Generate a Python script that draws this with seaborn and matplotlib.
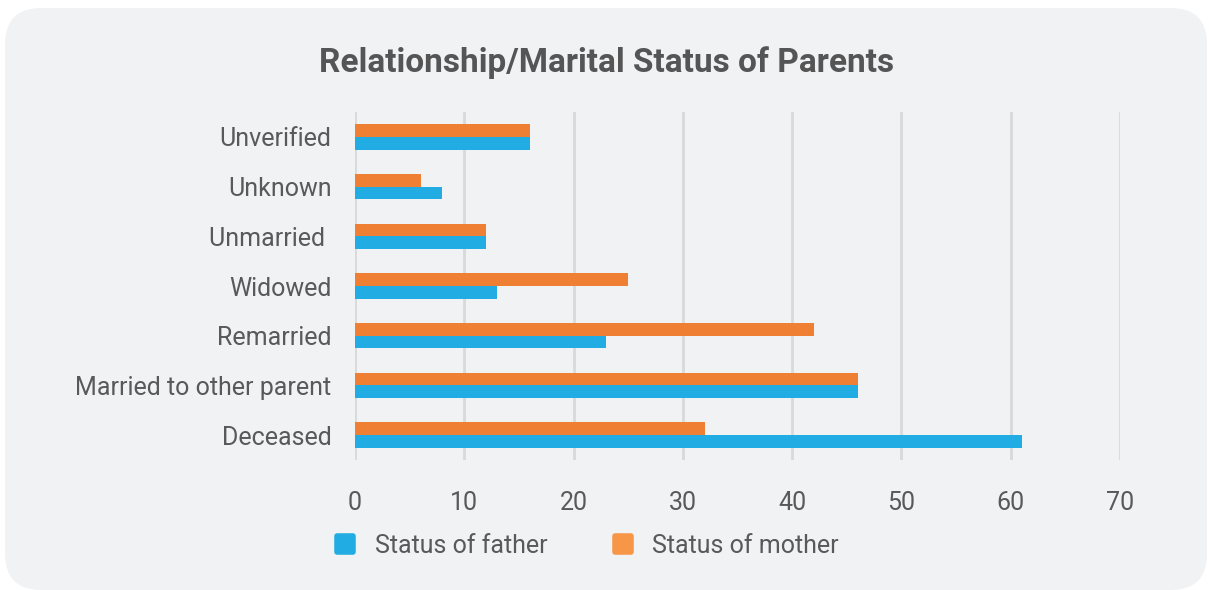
import numpy as np
import pandas as pd
import matplotlib
matplotlib.use('Agg')
import matplotlib.pyplot as plt
import seaborn as sns
from matplotlib.patches import FancyBboxPatch
from matplotlib.lines import Line2D
from matplotlib.markers import MarkerStyle

# values
categories = ['Deceased', 'Married to other parent', 'Remarried', 'Widowed',
              'Unmarried ', 'Unknown', 'Unverified']
father = [61, 46, 23, 13, 12, 8, 16]
mother = [32, 46, 42, 25, 12, 6, 16]
series = ['Status of father', 'Status of mother']
xticks = [0, 10, 20, 30, 40, 50, 60, 70]

blue = '#21ADE3'
orange = '#EF8033'
grey_text = '#595959'
bg = '#F1F2F4'

df = pd.DataFrame({'category': categories * 2,
                   'value': father + mother,
                   'series': [series[0]] * len(categories) + [series[1]] * len(categories)})

sns.set_theme(style='white')
plt.rcParams['font.family'] = ['Roboto', 'DejaVu Sans']

fig = plt.figure(figsize=(12.09, 5.9), dpi=100)
fig.patch.set_facecolor('white')

# rounded card behind everything
card = FancyBboxPatch((5 / 1209, 0.0), 1202 / 1209, 582 / 590,
                      boxstyle='round,pad=0,rounding_size=0.03',
                      transform=fig.transFigure, facecolor=bg, edgecolor='none',
                      mutation_aspect=1209 / 590, zorder=-10)
fig.patches.append(card)

ax = fig.add_axes([355 / 1209, 1 - 460 / 590, 765 / 1209, 348 / 590])
ax.set_facecolor('none')

# top-down order as in the reference; seaborn puts the first category on top
order = categories[::-1]
sns.barplot(data=df, y='category', x='value', hue='series', order=order,
            hue_order=series[::-1], palette={series[0]: blue, series[1]: orange},
            orient='h', width=0.51, saturation=1, linewidth=0, ax=ax,
            legend=False, zorder=3)

ax.set_xlim(0, 70)
ax.set_ylim(6.5, -0.5)
ax.set_xticks(xticks)
ax.xaxis.grid(True, color='#D9D9D9', linewidth=2)
ax.set_axisbelow(True)
for s in ax.spines.values():
    s.set_visible(False)
ax.set_xlabel('')
ax.set_ylabel('')
ax.tick_params(axis='x', length=0, pad=22, labelsize=18, labelcolor=grey_text)
ax.tick_params(axis='y', length=0, pad=17, labelsize=18, labelcolor=grey_text)

fig.text(607 / 1209, 1 - 63 / 590, 'Relationship/Marital Status of Parents',
         ha='center', va='center', fontsize=24, fontweight='bold', color='#555555')

rsq = MarkerStyle('s', joinstyle='round')
handles = [Line2D([0], [0], marker=rsq, linestyle='none', markersize=11,
                  markerfacecolor=c, markeredgecolor=c, markeredgewidth=4,
                  label=l)
           for c, l in zip([blue, '#F79646'], series)]
fig.legend(handles=handles, loc='center', bbox_to_anchor=(587 / 1209, 1 - 546 / 590),
           ncol=2, frameon=False, fontsize=18, labelcolor=grey_text,
           handlelength=0.8, handletextpad=0.8, columnspacing=2.6)

fig.savefig('out.png', dpi=100, facecolor='white')
